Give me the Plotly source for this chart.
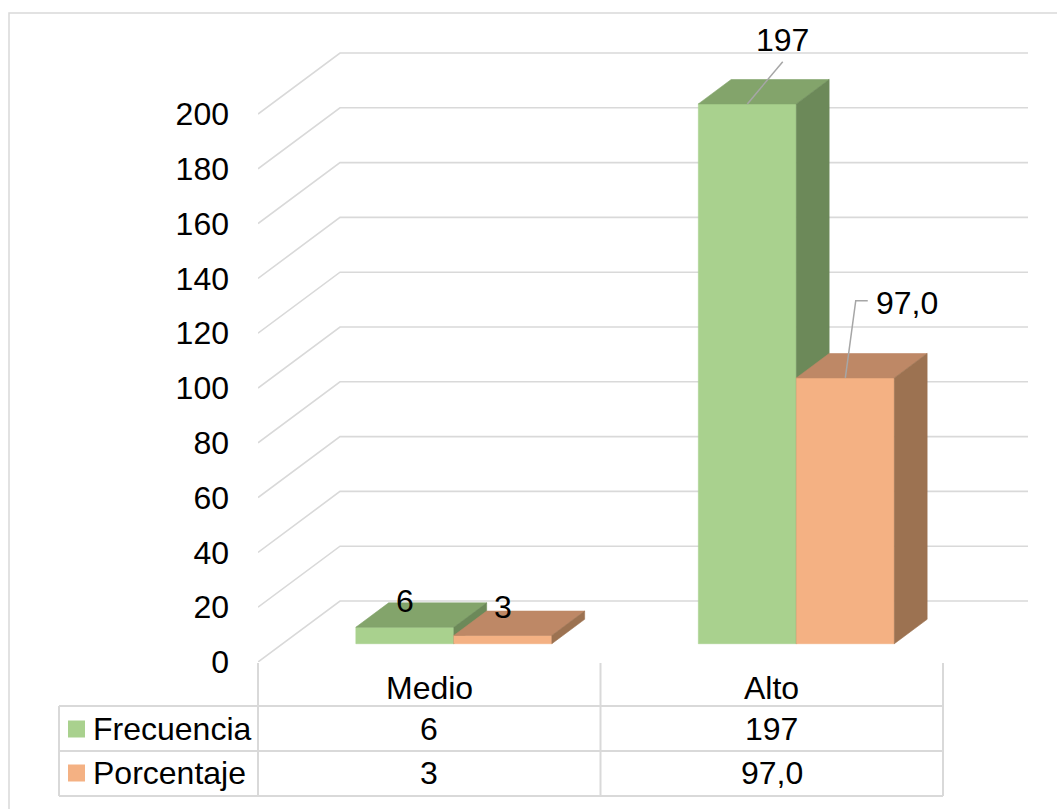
import plotly.graph_objects as go

# ---------------- data ----------------
categories = ["Medio", "Alto"]
series_names = ["Frecuencia", "Porcentaje"]
frecuencia = [6, 197]
porcentaje = [3, 97.0]
frecuencia_text = ["6", "197"]
porcentaje_text = ["3", "97,0"]
y_ticks = [0, 20, 40, 60, 80, 100, 120, 140, 160, 180, 200]

# ---------------- layout constants ----------------
W, H = 1057, 809
ML, MR, MT, MB = 258, 29, 20, 147
PX_PER_CAT = 342.5
PX_PER_UNIT = 2.74
plot_w = W - ML - MR
plot_h = H - MT - MB
x_range = [-0.5, -0.5 + plot_w / PX_PER_CAT]
y_range = [0, plot_h / PX_PER_UNIT]

DEPTH_X = 82 / PX_PER_CAT
DEPTH_Y = 61 / PX_PER_UNIT
Z0, Z1 = 0.3, 0.7
BAR_W = 98 / PX_PER_CAT

FONT = "Liberation Sans, Arial, sans-serif"
FS = 32
GRID = "#D9D9D9"

series_vals = [frecuencia, porcentaje]
series_text = [frecuencia_text, porcentaje_text]
series_offsets = [-BAR_W, 0.0]
face_colors = [
    {"front": "#A9D18E", "top": "#83A46B", "side": "#6C8959"},
    {"front": "#F4B183", "top": "#BE8866", "side": "#9C7251"},
]
# label offsets (px) from the top-face centre, and leader style
label_offsets = [[(-16, -14), (19, -52)], [(-16, -16), (45, -63)]]
leader_styles = [[None, "straight"], [None, "elbow"]]


def proj(x, v, z):
    return x + z * DEPTH_X, v + z * DEPTH_Y


def px_to_paper(px, py):
    return (px - ML) / plot_w, (H - MB - py) / plot_h


fig = go.Figure()

# back wall grid + left wall diagonals
gx, gy = [], []
for t in y_ticks:
    a = proj(x_range[0], t, 0)
    b = proj(x_range[0], t, 1)
    gx += [a[0], b[0], x_range[1], None]
    gy += [a[1], b[1], b[1], None]
fig.add_trace(go.Scatter(x=gx, y=gy, mode="lines",
                         line=dict(color=GRID, width=1.6),
                         hoverinfo="skip", showlegend=False))


def poly(points, color):
    xs = [p[0] for p in points] + [points[0][0]]
    ys = [p[1] for p in points] + [points[0][1]]
    fig.add_trace(go.Scatter(x=xs, y=ys, mode="lines", fill="toself",
                             fillcolor=color, line=dict(color=color, width=0.6),
                             hoverinfo="skip", showlegend=False))


for i, cat in enumerate(categories):
    for s in range(len(series_vals)):
        v = series_vals[s][i]
        x0 = i + series_offsets[s]
        x1 = x0 + BAR_W
        c = face_colors[s]
        poly([proj(x0, 0, Z0), proj(x1, 0, Z0), proj(x1, v, Z0), proj(x0, v, Z0)], c["front"])
        poly([proj(x0, v, Z0), proj(x1, v, Z0), proj(x1, v, Z1), proj(x0, v, Z1)], c["top"])
        poly([proj(x1, 0, Z0), proj(x1, 0, Z1), proj(x1, v, Z1), proj(x1, v, Z0)], c["side"])

# data labels
annotations = []
for s in range(len(series_vals)):
    for i in range(len(categories)):
        v = series_vals[s][i]
        xc = i + series_offsets[s] + BAR_W / 2
        tx, ty = proj(xc, v, 0.5)
        ox, oy = label_offsets[s][i]
        lx = tx + ox / PX_PER_CAT
        ly = ty - oy / PX_PER_UNIT
        annotations.append(dict(x=lx, y=ly, xref="x", yref="y", text=series_text[s][i],
                                showarrow=False, font=dict(family=FONT, size=FS, color="black"),
                                xanchor="center", yanchor="middle"))
        ax, ay = proj(xc, v, Z0)
        style = leader_styles[s][i]
        if style == "straight":
            fig.add_trace(go.Scatter(x=[ax, lx], y=[ay, ly - 22 / PX_PER_UNIT], mode="lines",
                                     line=dict(color="#A6A6A6", width=1.5),
                                     hoverinfo="skip", showlegend=False))
        elif style == "elbow":
            ey = ly + 2 / PX_PER_UNIT
            fig.add_trace(go.Scatter(x=[ax, lx - 51 / PX_PER_CAT, lx - 39 / PX_PER_CAT],
                                     y=[ay, ey, ey], mode="lines",
                                     line=dict(color="#A6A6A6", width=1.5),
                                     hoverinfo="skip", showlegend=False))

# ---------------- data table ----------------
shapes = []
LINE = dict(color=GRID, width=2)
row_lines = [706, 751, 796]
table_left = 59
cat_edges_px = [ML + (e - x_range[0]) * PX_PER_CAT for e in [-0.5, 0.5, 1.5]]
for ry in row_lines:
    x0p, y0p = px_to_paper(table_left, ry)
    x1p, _ = px_to_paper(cat_edges_px[-1], ry)
    shapes.append(dict(type="line", xref="paper", yref="paper", x0=x0p, x1=x1p,
                       y0=y0p, y1=y0p, line=LINE))
for ex in cat_edges_px:
    xp, yt = px_to_paper(ex, 663)
    _, yb = px_to_paper(ex, 796)
    shapes.append(dict(type="line", xref="paper", yref="paper", x0=xp, x1=xp,
                       y0=yt, y1=yb, line=LINE))
xp, yt = px_to_paper(table_left, 706)
_, yb = px_to_paper(table_left, 796)
shapes.append(dict(type="line", xref="paper", yref="paper", x0=xp, x1=xp,
                   y0=yt, y1=yb, line=LINE))

# outer chart border
bx0, by0 = px_to_paper(9, 13)
bx1, by1 = px_to_paper(1070, 820)
shapes.append(dict(type="rect", xref="paper", yref="paper", x0=bx0, x1=bx1,
                   y0=by0, y1=by1, line=dict(color=GRID, width=1.5)))

header_y = 688
row_y = [729, 773]
for i, cat in enumerate(categories):
    _, hy = px_to_paper(0, header_y)
    annotations.append(dict(x=i, y=hy, xref="x", yref="paper", text=cat, showarrow=False,
                            font=dict(family=FONT, size=FS, color="black"), yanchor="middle"))
    for s in range(len(series_vals)):
        _, ry = px_to_paper(0, row_y[s])
        annotations.append(dict(x=i, y=ry, xref="x", yref="paper", text=series_text[s][i],
                                showarrow=False, font=dict(family=FONT, size=FS, color="black"),
                                yanchor="middle"))

for s, name in enumerate(series_names):
    kx0, ky0 = px_to_paper(68, row_y[s] - 8.5)
    kx1, ky1 = px_to_paper(85, row_y[s] + 8.5)
    shapes.append(dict(type="rect", xref="paper", yref="paper", x0=kx0, x1=kx1,
                       y0=ky0, y1=ky1, fillcolor=face_colors[s]["front"], line=dict(width=0)))
    tx, ty = px_to_paper(91, row_y[s])
    annotations.append(dict(x=tx, y=ty, xref="paper", yref="paper", text=name, showarrow=False,
                            xanchor="left", yanchor="middle",
                            font=dict(family=FONT, size=FS, color="black")))

fig.update_layout(
    width=W, height=H,
    margin=dict(l=ML, r=MR, t=MT, b=MB, pad=0),
    paper_bgcolor="white", plot_bgcolor="white",
    showlegend=False,
    xaxis=dict(range=x_range, visible=False, fixedrange=True),
    yaxis=dict(range=y_range, tickvals=y_ticks, ticktext=[str(t) for t in y_ticks],
               showgrid=False, zeroline=False, showline=False, ticks="",
               ticklabelstandoff=28,
               tickfont=dict(family=FONT, size=FS, color="black"), fixedrange=True),
    shapes=shapes,
    annotations=annotations,
)

fig.write_html("out.html")
